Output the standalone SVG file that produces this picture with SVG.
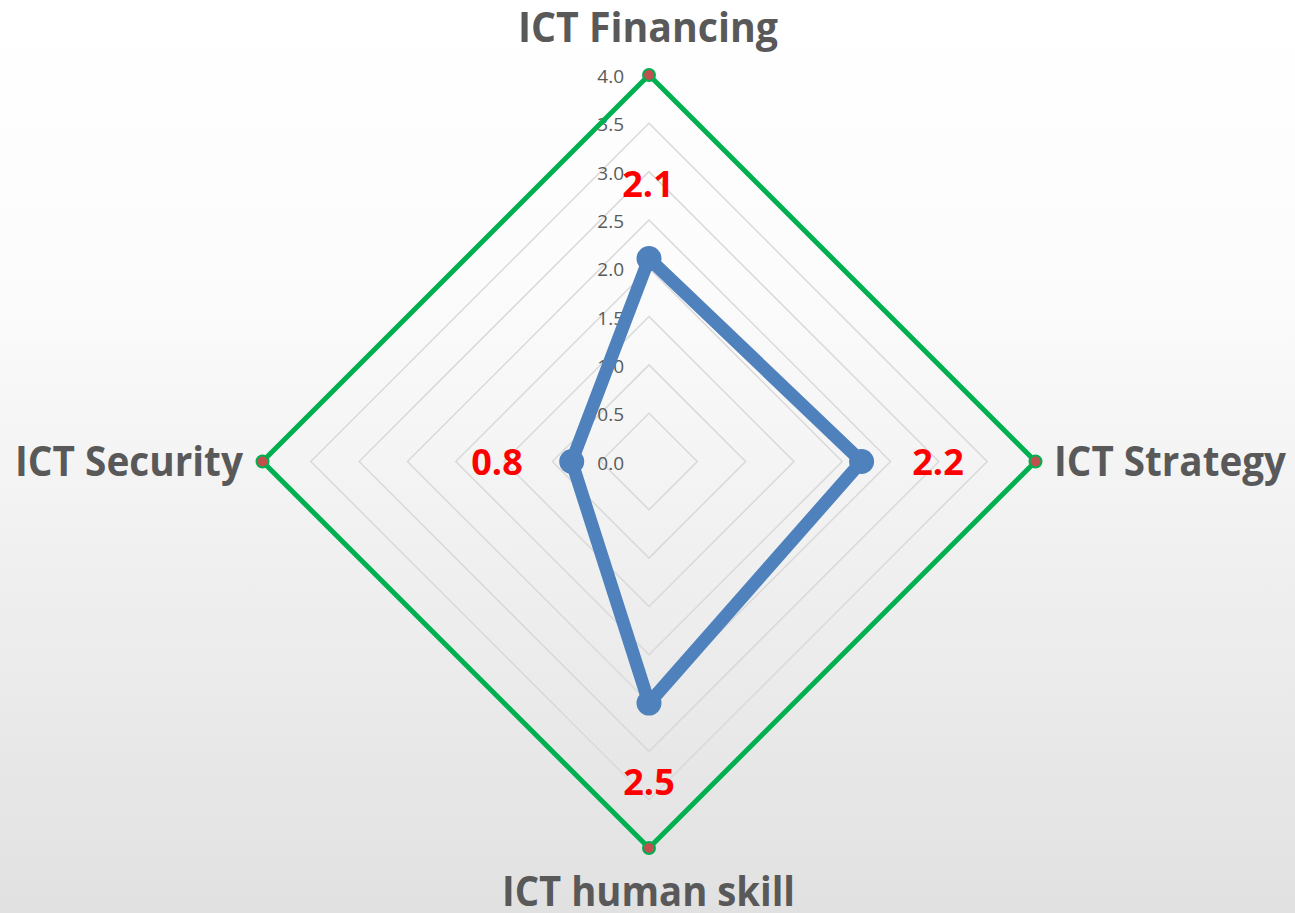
<svg xmlns="http://www.w3.org/2000/svg" width="1295" height="913" viewBox="0 0 1295 913">
  <defs>
    <linearGradient id="bg" x1="0" y1="0" x2="0" y2="1">
      <stop offset="0" stop-color="#ffffff"/>
      <stop offset="0.3" stop-color="#fcfcfc"/>
      <stop offset="1" stop-color="#e1e1e1"/>
    </linearGradient>
    <style>
      .grid { fill: none; stroke: #d9d9d9; stroke-width: 1.5; }
      .outer { fill: none; stroke: #00b050; stroke-width: 5; stroke-linejoin: miter; }
      .odot { fill: #c0504d; stroke: #00b050; stroke-width: 2; }
      .series { fill: none; stroke: #4f81bd; stroke-width: 13; stroke-linejoin: round; }
      .sdot { fill: #4f81bd; }
      .tick { font-family: "Open Sans", "Liberation Sans", sans-serif; font-size: 19px; fill: #595959; text-anchor: end; }
      .cat { font-family: "Open Sans", "Liberation Sans", sans-serif; font-size: 41px; font-weight: bold; fill: #595959; }
      .val { font-family: "Open Sans", "Liberation Sans", sans-serif; font-size: 36px; font-weight: bold; fill: #ff0000; text-anchor: middle; }
    </style>
  </defs>
  <rect x="0" y="0" width="1295" height="913" fill="url(#bg)"/>

  <g id="gridlines">
    <polygon class="grid" points="649,413.19 697.31,461.5 649,509.81 600.69,461.5"/>
    <polygon class="grid" points="649,364.87 745.63,461.5 649,558.13 552.37,461.5"/>
    <polygon class="grid" points="649,316.56 793.94,461.5 649,606.44 504.06,461.5"/>
    <polygon class="grid" points="649,268.25 842.25,461.5 649,654.75 455.75,461.5"/>
    <polygon class="grid" points="649,219.94 890.56,461.5 649,703.06 407.44,461.5"/>
    <polygon class="grid" points="649,171.62 938.88,461.5 649,751.38 359.12,461.5"/>
    <polygon class="grid" points="649,123.31 987.19,461.5 649,799.69 310.81,461.5"/>
  </g>

  <g id="axis-ticks">
    <text class="tick" x="624" y="469.5">0.0</text>
    <text class="tick" x="624" y="421.2">0.5</text>
    <text class="tick" x="624" y="372.9">1.0</text>
    <text class="tick" x="624" y="324.6">1.5</text>
    <text class="tick" x="624" y="276.3">2.0</text>
    <text class="tick" x="624" y="228">2.5</text>
    <text class="tick" x="624" y="179.6">3.0</text>
    <text class="tick" x="624" y="131.3">3.5</text>
    <text class="tick" x="624" y="83">4.0</text>
  </g>

  <g id="connectors">
    <polygon id="target-outline" class="outer" points="649,75 1035.5,461.5 649,848 262.5,461.5"/>
    <polygon id="series-outline" class="series" points="649,258.6 861.6,461.5 649,703.1 571.7,461.5"/>
  </g>

  <g id="target-points">
    <circle class="odot" cx="649" cy="75" r="6"/>
    <circle class="odot" cx="1035.5" cy="461.5" r="6"/>
    <circle class="odot" cx="649" cy="848" r="6"/>
    <circle class="odot" cx="262.5" cy="461.5" r="6"/>
  </g>

  <g id="node-financing">
    <circle class="sdot" cx="649" cy="258.6" r="12.5"/>
    <text class="val" x="648" y="197">2.1</text>
    <text class="cat" x="648" y="42" text-anchor="middle" textLength="260" lengthAdjust="spacingAndGlyphs">ICT Financing</text>
  </g>
  <g id="node-strategy">
    <circle class="sdot" cx="861.6" cy="461.5" r="12.5"/>
    <text class="val" x="938" y="475">2.2</text>
    <text class="cat" x="1054" y="476" textLength="232" lengthAdjust="spacingAndGlyphs">ICT Strategy</text>
  </g>
  <g id="node-human-skill">
    <circle class="sdot" cx="649" cy="703.1" r="12.5"/>
    <text class="val" x="649" y="795">2.5</text>
    <text class="cat" x="502" y="906" textLength="293" lengthAdjust="spacingAndGlyphs">ICT human skill</text>
  </g>
  <g id="node-security">
    <circle class="sdot" cx="571.7" cy="461.5" r="12.5"/>
    <text class="val" x="497" y="475">0.8</text>
    <text class="cat" x="15" y="476" textLength="228" lengthAdjust="spacingAndGlyphs">ICT Security</text>
  </g>
</svg>
